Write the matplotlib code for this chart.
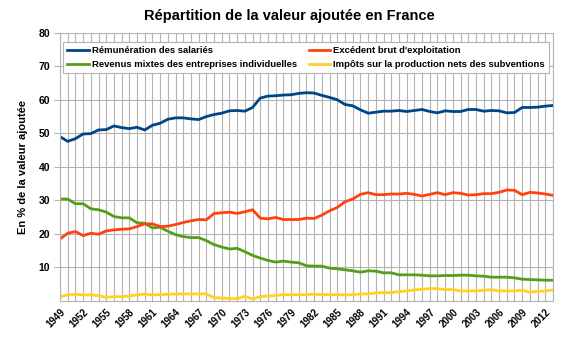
import numpy as np
import matplotlib
matplotlib.use('Agg')
import matplotlib.pyplot as plt

plt.rcParams['font.family'] = ['Liberation Sans', 'DejaVu Sans']

years = list(range(1949, 2014))

remuneration = [49.0, 47.6, 48.4, 49.8, 49.9, 51.0, 51.1, 52.2, 51.7, 51.4,
                51.8, 51.0, 52.4, 53.0, 54.2, 54.6, 54.6, 54.3, 54.1, 55.0,
                55.6, 56.0, 56.7, 56.8, 56.6, 57.7, 60.5, 61.1, 61.2, 61.4,
                61.5, 61.9, 62.1, 62.0, 61.3, 60.7, 60.0, 58.6, 58.2, 57.0,
                56.0, 56.3, 56.6, 56.6, 56.8, 56.5, 56.8, 57.1, 56.5, 56.1,
                56.7, 56.5, 56.5, 57.1, 57.1, 56.6, 56.8, 56.7, 56.1, 56.2,
                57.7, 57.7, 57.8, 58.1, 58.3]

excedent = [18.5, 20.2, 20.7, 19.5, 20.2, 19.9, 20.9, 21.2, 21.4, 21.5,
            22.2, 23.0, 23.0, 22.2, 22.3, 22.8, 23.4, 23.9, 24.3, 24.2,
            26.1, 26.3, 26.5, 26.1, 26.6, 27.2, 24.7, 24.5, 24.9, 24.3,
            24.3, 24.3, 24.7, 24.6, 25.6, 26.9, 27.9, 29.6, 30.4, 31.8,
            32.3, 31.7, 31.7, 31.9, 31.9, 32.1, 31.8, 31.3, 31.8, 32.3,
            31.7, 32.3, 32.1, 31.6, 31.7, 32.0, 32.0, 32.4, 33.1, 33.0,
            31.7, 32.4, 32.2, 31.9, 31.5]

revenus_mixtes = [30.4, 30.4, 29.0, 29.0, 27.5, 27.2, 26.5, 25.2, 24.8, 24.8,
                  23.3, 23.2, 21.8, 22.0, 20.8, 19.8, 19.2, 18.9, 18.9, 18.0,
                  16.8, 16.1, 15.5, 15.7, 14.7, 13.6, 12.8, 12.1, 11.6, 11.9,
                  11.6, 11.4, 10.5, 10.4, 10.4, 9.8, 9.6, 9.3, 9.0, 8.6,
                  9.0, 8.9, 8.4, 8.4, 7.8, 7.8, 7.8, 7.7, 7.5, 7.5,
                  7.6, 7.6, 7.7, 7.7, 7.5, 7.4, 7.1, 7.1, 7.1, 6.9,
                  6.5, 6.4, 6.3, 6.2, 6.2]

impots = [1.3, 1.8, 2.0, 1.8, 1.8, 1.6, 1.1, 1.3, 1.3, 1.5,
          1.8, 2.1, 1.8, 1.9, 2.0, 2.1, 2.1, 2.1, 2.1, 2.1,
          1.0, 0.9, 0.7, 0.7, 1.4, 0.6, 1.3, 1.5, 1.6, 1.9,
          1.9, 1.9, 1.9, 2.0, 1.9, 1.9, 1.9, 1.8, 1.9, 2.1,
          2.1, 2.4, 2.5, 2.5, 2.8, 3.0, 3.3, 3.5, 3.7, 3.7,
          3.4, 3.4, 3.0, 3.0, 3.0, 3.2, 3.4, 3.0, 3.0, 3.0,
          3.2, 2.6, 2.9, 3.0, 3.3]

series_labels = ['Rémunération des salariés',
                 'Revenus mixtes des entreprises individuelles',
                 "Excédent brut d'exploitation",
                 'Impôts sur la production nets des subventions']
colors = ['#004586', '#579d1c', '#ff420e', '#ffd320']
tick_years = list(range(1949, 2013, 3))
y_ticks = [10, 20, 30, 40, 50, 60, 70, 80]

fig = plt.figure(figsize=(5.79, 3.5), dpi=100)
ax = fig.add_axes([0.1036, 0.14, 0.8515, 0.7666])

for vals, lab, col in zip([remuneration, revenus_mixtes, excedent, impots],
                          series_labels, colors):
    ax.plot(years, vals, color=col, lw=2, label=lab, solid_joinstyle='round')

ax.set_xlim(1949, 2013)
ax.set_ylim(0, 80)
ax.set_xticks(years, minor=True)
ax.set_xticks(tick_years)
ax.set_xticklabels([str(y) for y in tick_years], rotation=45, ha='right',
                   rotation_mode='anchor', fontsize=7, fontweight='bold')
ax.set_yticks(y_ticks)
ax.set_yticklabels([str(v) for v in y_ticks], fontsize=7.5, fontweight='bold')
ax.tick_params(axis='x', which='both', length=0, pad=4)
ax.tick_params(axis='y', length=4, color='#b3b3b3', pad=3)
ax.grid(True, which='both', axis='x', color='#b3b3b3', lw=0.8)
ax.grid(True, which='major', axis='y', color='#b3b3b3', lw=0.8)
ax.set_axisbelow(True)
for s in ax.spines.values():
    s.set_color('#b3b3b3')
    s.set_linewidth(0.8)

ax.set_ylabel('En % de la valeur ajoutée', fontsize=8, fontweight='bold',
              labelpad=8)
fig.suptitle('Répartition de la valeur ajoutée en France', fontsize=10.5,
             fontweight='bold', x=0.5, y=0.975)

leg = ax.legend(loc='upper left', bbox_to_anchor=(0.006, 0.824, 0.986, 0.141),
                mode='expand', ncol=2, fancybox=False, edgecolor='#b3b3b3',
                framealpha=1, prop={'size': 6.8, 'weight': 'bold'},
                handlelength=2.3, handletextpad=0.3, borderpad=0.45,
                labelspacing=0.5, borderaxespad=0)
leg.get_frame().set_linewidth(0.8)

fig.savefig('out.png', dpi=100)
